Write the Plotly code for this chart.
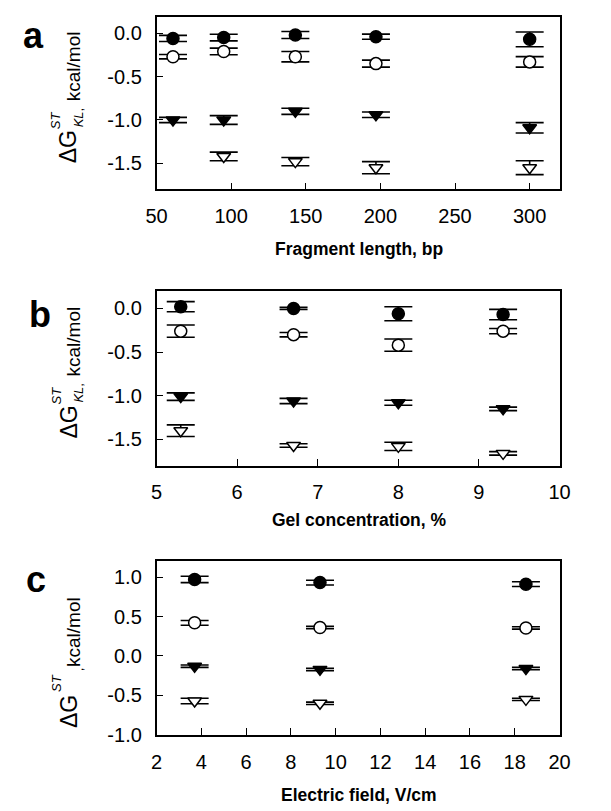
import plotly.graph_objects as go

# ---------------- data ----------------
# panel a: fragment length, bp
frag_len = [61, 95, 143, 197, 300]
a_fc = [-0.06, -0.05, -0.02, -0.04, -0.07]
a_fc_err = [0.035, 0.038, 0.04, 0.03, 0.085]
a_oc = [-0.27, -0.21, -0.27, -0.35, -0.33]
a_oc_err = [0.025, 0.038, 0.06, 0.04, 0.06]
a_ft = [-1.00, -1.00, -0.90, -0.94, -1.09]
a_ft_err = [0.03, 0.05, 0.035, 0.032, 0.06]
frag_len_ot = [95, 143, 197, 300]
a_ot = [-1.42, -1.48, -1.55, -1.55]
a_ot_err = [0.05, 0.047, 0.07, 0.08]

# panel b: gel concentration, %
gel = [5.3, 6.7, 8.0, 9.3]
b_fc = [0.02, 0.00, -0.06, -0.07]
b_fc_err = [0.058, 0.012, 0.08, 0.06]
b_oc = [-0.26, -0.30, -0.42, -0.26]
b_oc_err = [0.07, 0.025, 0.07, 0.03]
b_ft = [-1.01, -1.06, -1.08, -1.15]
b_ft_err = [0.043, 0.03, 0.028, 0.02]
b_ot = [-1.40, -1.57, -1.58, -1.66]
b_ot_err = [0.066, 0.02, 0.047, 0.02]

# panel c: electric field, V/cm
field = [3.7, 9.3, 18.5]
c_fc = [0.97, 0.93, 0.91]
c_fc_err = [0.04, 0.03, 0.03]
c_oc = [0.42, 0.36, 0.355]
c_oc_err = [0.03, 0.015, 0.015]
c_ft = [-0.13, -0.17, -0.16]
c_ft_err = [0.015, 0.015, 0.015]
c_ot = [-0.57, -0.60, -0.55]
c_ot_err = [0.035, 0.015, 0.015]

# tick labels
a_xticks = [50, 100, 150, 200, 250, 300]
b_xticks = [5, 6, 7, 8, 9, 10]
c_xticks = [2, 4, 6, 8, 10, 12, 14, 16, 18, 20]
ab_yticks = [0.0, -0.5, -1.0, -1.5]
ab_yticktext = ["0.0", "-0.5", "-1.0", "-1.5"]
c_yticks = [1.0, 0.5, 0.0, -0.5, -1.0]
c_yticktext = ["1.0", "0.5", "0.0", "-0.5", "-1.0"]

FONT = "Liberation Sans, Arial, sans-serif"
W, H = 611, 811

fig = go.Figure()

styles = {
    "fc": dict(symbol="circle", color="black", line=dict(color="black", width=1.5), size=12),
    "oc": dict(symbol="circle", color="white", line=dict(color="black", width=1.5), size=12),
    "ft": dict(symbol="triangle-down", color="black", line=dict(color="black", width=1.5), size=12),
    "ot": dict(symbol="triangle-down", color="white", line=dict(color="black", width=1.5), size=12),
}


def add(x, y, err, kind, xa, ya):
    fig.add_trace(go.Scatter(
        x=x, y=y, mode="markers", xaxis=xa, yaxis=ya,
        marker=styles[kind],
        error_y=dict(type="data", array=err, visible=True, color="black",
                     thickness=1.6, width=14),
        showlegend=False, cliponaxis=False,
    ))


add(frag_len, a_fc, a_fc_err, "fc", "x", "y")
add(frag_len, a_oc, a_oc_err, "oc", "x", "y")
add(frag_len, a_ft, a_ft_err, "ft", "x", "y")
add(frag_len_ot, a_ot, a_ot_err, "ot", "x", "y")

add(gel, b_fc, b_fc_err, "fc", "x2", "y2")
add(gel, b_oc, b_oc_err, "oc", "x2", "y2")
add(gel, b_ft, b_ft_err, "ft", "x2", "y2")
add(gel, b_ot, b_ot_err, "ot", "x2", "y2")

add(field, c_fc, c_fc_err, "fc", "x3", "y3")
add(field, c_oc, c_oc_err, "oc", "x3", "y3")
add(field, c_ft, c_ft_err, "ft", "x3", "y3")
add(field, c_ot, c_ot_err, "ot", "x3", "y3")


def px_x(p):
    return p / W


def px_y(p):
    return 1 - p / H


xdom = [px_x(151), px_x(569)]
panels = {
    "a": (17, 192),
    "b": (295, 472),
    "c": (569, 745),
}

axis_common = dict(
    showline=True, linecolor="black", linewidth=1.5, mirror=True,
    ticks="inside", ticklen=7, tickwidth=1.2, tickcolor="black",
    showgrid=False, zeroline=False,
    tickfont=dict(family=FONT, size=20, color="black"),
)
xa_common = dict(ticklabelstandoff=8, **axis_common)
ya_common = dict(ticklabelstandoff=9, **axis_common)

fig.update_layout(
    width=W, height=H,
    margin=dict(l=0, r=0, t=0, b=0),
    paper_bgcolor="white", plot_bgcolor="white",
    font=dict(family=FONT, color="black"),
    xaxis=dict(domain=xdom, anchor="y", range=[50, 320], tickvals=a_xticks, **xa_common),
    yaxis=dict(domain=[px_y(panels["a"][1]), px_y(panels["a"][0])], anchor="x",
               range=[-1.8, 0.19], tickvals=ab_yticks, ticktext=ab_yticktext, **ya_common),
    xaxis2=dict(domain=xdom, anchor="y2", range=[5, 10], tickvals=b_xticks, **xa_common),
    yaxis2=dict(domain=[px_y(panels["b"][1]), px_y(panels["b"][0])], anchor="x2",
                range=[-1.8, 0.2], tickvals=ab_yticks, ticktext=ab_yticktext, **ya_common),
    xaxis3=dict(domain=xdom, anchor="y3", range=[2, 20], tickvals=c_xticks, **xa_common),
    yaxis3=dict(domain=[px_y(panels["c"][1]), px_y(panels["c"][0])], anchor="x3",
                range=[-1.0, 1.2], tickvals=c_yticks, ticktext=c_yticktext, **ya_common),
)

ann = []


def label(text, x, y, size, angle=0, bold=False):
    ann.append(dict(text=f"<b>{text}</b>" if bold else text,
                    x=px_x(x), y=px_y(y), xref="paper", yref="paper",
                    xanchor="center", yanchor="middle", textangle=angle, showarrow=False,
                    font=dict(family=FONT, size=size, color="black")))


# panel letters
label("a", 23, 36, 36, bold=True)
label("b", 30, 319, 36, bold=True)
label("c", 26, 587, 36, bold=True)

DX = -12
# y titles with stacked super/subscripts (a, b)
for key in ("a", "b"):
    top, bot = panels[key]
    c = (top + bot) / 2 - 4
    label("ΔG", 72 + DX, c + 48, 23, angle=-90)
    label("<i>ST</i>", 59 + DX, c + 21, 13, angle=-90)
    label("<i>KL</i>,", 82 + DX, c + 18, 13, angle=-90)
    label("kcal/mol", 77 + DX, c - 33, 19, angle=-90)

# y title panel c
label("ΔG", 72 + DX, 721, 23, angle=-90)
label("<i>ST</i>", 59 + DX, 692, 13, angle=-90)
label(",", 82 + DX, 678, 13, angle=-90)
label("kcal/mol", 77 + DX, 641, 19, angle=-90)

# x titles
label("Fragment length, bp", 361, 252, 17.5, bold=True)
label("Gel concentration, %", 361, 527, 17.5, bold=True)
label("Electric field, V/cm", 361, 806, 17.5, bold=True)

fig.update_layout(annotations=ann)

fig.write_html("out.html")
